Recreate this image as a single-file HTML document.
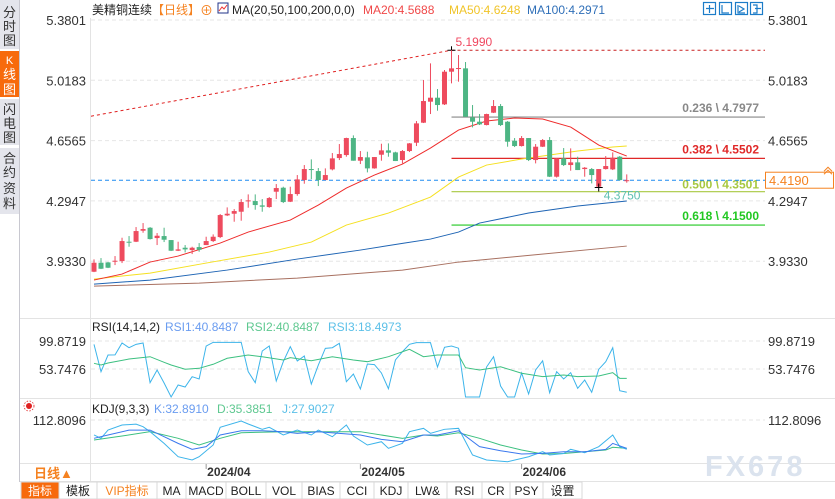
<!DOCTYPE html>
<html><head><meta charset="utf-8">
<style>
body{margin:0;background:#fff;width:835px;height:499px;overflow:hidden;font-family:"Liberation Sans","Noto Sans CJK SC",sans-serif}
svg{display:block}
text{font-family:"Liberation Sans","Noto Sans CJK SC",sans-serif}
</style></head>
<body>
<svg id="c" width="835" height="499" xmlns="http://www.w3.org/2000/svg">
<g>
<rect x="0" y="0" width="19" height="499" fill="#fff"/>
<line x1="19.5" y1="0" x2="19.5" y2="482" stroke="#c8c8d0"/>
<rect x="0" y="0" width="19" height="49" fill="#e4e5ec"/>
<text x="9.5" y="17" font-size="13" text-anchor="middle" fill="#333">分</text>
<text x="9.5" y="31" font-size="13" text-anchor="middle" fill="#333">时</text>
<text x="9.5" y="45" font-size="13" text-anchor="middle" fill="#333">图</text>
<rect x="0" y="51" width="19" height="46" fill="#f76a0c"/>
<text x="9.5" y="64" font-size="11" text-anchor="middle" fill="#fff">K</text>
<text x="9.5" y="79" font-size="13" text-anchor="middle" fill="#fff">线</text>
<text x="9.5" y="94" font-size="13" text-anchor="middle" fill="#fff">图</text>
<rect x="0" y="99" width="19" height="46" fill="#e4e5ec"/>
<text x="9.5" y="114" font-size="13" text-anchor="middle" fill="#333">闪</text>
<text x="9.5" y="128" font-size="13" text-anchor="middle" fill="#333">电</text>
<text x="9.5" y="142" font-size="13" text-anchor="middle" fill="#333">图</text>
<rect x="0" y="148" width="19" height="66" fill="#e4e5ec"/>
<text x="9.5" y="163" font-size="13" text-anchor="middle" fill="#333">合</text>
<text x="9.5" y="177" font-size="13" text-anchor="middle" fill="#333">约</text>
<text x="9.5" y="193" font-size="13" text-anchor="middle" fill="#333">资</text>
<text x="9.5" y="208" font-size="13" text-anchor="middle" fill="#333">料</text>
</g>
<g font-size="12">
<text x="92" y="14" fill="#222">美精铜连续</text>
<text x="152" y="14" fill="#f58220">【日线】</text>
<text x="200" y="15" fill="#f58220" font-size="13">⊕</text>
<rect x="218" y="3" width="10" height="10" fill="#fff" stroke="#223388"/>
<polyline points="219,11 222,7 224,9 227,5" fill="none" stroke="#e33" stroke-width="1"/>
<text x="232" y="14" fill="#222">MA(20,50,100,200,0,0)</text>
<text x="363" y="14" fill="#f04848">MA20:4.5688</text>
<text x="449" y="14" fill="#f0c428">MA50:4.6248</text>
<text x="527" y="14" fill="#2f6fb8">MA100:4.2971</text>
</g>
<g fill="none" stroke="#1c7cc8" stroke-width="1.2">
<rect x="703.5" y="2.5" width="12" height="12"/>
<rect x="719.5" y="2.5" width="12" height="12"/>
<rect x="735.5" y="2.5" width="12" height="12"/>
<rect x="750.5" y="2.5" width="12" height="12"/>
<path d="M709.5 5v8M706 8.5h8M722 5v8h7M738 5v8h7M739 6l5 3-5 3M753 5h4v8h-4M755 8.5h6" />
</g>
<g id="grid"></g>
<g id="main"></g>
<g id="rsi"></g>
<g id="kdj"></g>
<g stroke="#e3e3e3">
<line x1="90.5" y1="18" x2="90.5" y2="463"/>
<line x1="20" y1="318.5" x2="835" y2="318.5"/>
<line x1="20" y1="398.5" x2="835" y2="398.5"/>
<line x1="20" y1="463.5" x2="835" y2="463.5"/>
<line x1="20" y1="481.5" x2="835" y2="481.5"/>
<line x1="90.5" y1="463" x2="90.5" y2="482"/>
</g>
<g font-size="12">
<text x="92" y="331" fill="#222">RSI(14,14,2)</text>
<text x="165" y="331" fill="#6a9cf0">RSI1:40.8487</text>
<text x="246" y="331" fill="#5ec890">RSI2:40.8487</text>
<text x="328" y="331" fill="#5cc0e8">RSI3:18.4973</text>
</g>
<g font-size="12">
<text x="92" y="413" fill="#222">KDJ(9,3,3)</text>
<text x="154" y="413" fill="#6a9cf0">K:32.8910</text>
<text x="217" y="413" fill="#5ec890">D:35.3851</text>
<text x="282" y="413" fill="#5cc0e8">J:27.9027</text>
</g>
<g>
<circle cx="29" cy="406" r="3" fill="#e02020"/>
<circle cx="29" cy="406" r="5" fill="none" stroke="#e02020" stroke-width="0.8" stroke-dasharray="1.5 1.5"/>
</g>
<g>
<text x="34" y="478" font-size="13" fill="#f58220" font-weight="bold">日线▲</text>
</g>
<g id="dates" font-size="12" font-weight="bold" fill="#333"></g>
<text x="705" y="476" font-size="29" font-weight="bold" fill="#dbe3ee" letter-spacing="3">FX678</text>
<g id="tb"></g>
</svg>
<script>
const opens=[3.870,3.924,3.926,3.934,3.934,4.050,4.050,4.116,4.134,4.072,4.084,4.060,3.996,4.014,4.000,4.018,4.030,4.054,4.078,4.208,4.218,4.230,4.296,4.294,4.268,4.258,4.350,4.374,4.290,4.336,4.420,4.486,4.474,4.420,4.484,4.552,4.570,4.672,4.536,4.556,4.490,4.572,4.598,4.586,4.540,4.594,4.644,4.764,4.890,4.914,4.874,5.070,5.090,5.090,4.796,4.770,4.750,4.824,4.864,4.770,4.656,4.624,4.672,4.540,4.620,4.660,4.440,4.550,4.510,4.526,4.486,4.486,4.380,4.486,4.484,4.560,4.419];
const closes=[3.924,3.888,3.894,3.936,4.054,4.048,4.114,4.126,4.066,4.086,4.062,3.996,4.004,4.004,4.014,4.002,4.054,4.080,4.210,4.218,4.234,4.288,4.298,4.270,4.260,4.312,4.372,4.288,4.336,4.424,4.486,4.480,4.420,4.450,4.550,4.576,4.672,4.536,4.558,4.490,4.558,4.598,4.584,4.534,4.594,4.640,4.760,4.894,4.914,4.870,5.070,5.090,5.092,4.800,4.770,4.754,4.816,4.864,4.750,4.650,4.624,4.672,4.540,4.620,4.660,4.440,4.550,4.510,4.526,4.480,4.494,4.450,4.486,4.504,4.554,4.420,4.419];
const highs=[3.944,3.952,3.928,3.964,4.074,4.084,4.138,4.162,4.138,4.102,4.134,4.060,4.050,4.030,4.020,4.042,4.080,4.094,4.216,4.256,4.246,4.306,4.334,4.334,4.306,4.318,4.396,4.380,4.380,4.450,4.510,4.544,4.492,4.490,4.582,4.636,4.674,4.688,4.594,4.590,4.558,4.638,4.640,4.590,4.600,4.642,4.774,5.020,5.120,4.966,5.080,5.199,5.170,5.128,4.870,4.816,4.818,4.900,4.876,4.774,4.672,4.684,4.672,4.636,4.666,4.678,4.552,4.612,4.610,4.560,4.498,4.492,4.486,4.564,4.586,4.564,4.454];
const lows=[3.868,3.886,3.892,3.910,3.922,4.020,4.048,4.104,4.063,4.030,4.048,3.994,3.994,3.986,3.976,3.990,4.030,4.048,4.072,4.204,4.170,4.176,4.254,4.242,4.230,4.254,4.306,4.282,4.288,4.326,4.398,4.426,4.384,4.420,4.478,4.540,4.560,4.536,4.516,4.466,4.488,4.536,4.560,4.534,4.520,4.588,4.624,4.762,4.816,4.836,4.870,5.000,5.010,4.798,4.736,4.750,4.748,4.822,4.744,4.620,4.618,4.621,4.534,4.520,4.618,4.438,4.435,4.504,4.476,4.480,4.440,4.400,4.375,4.483,4.480,4.417,4.404];
const ma20Idx=[0,4,8,12,18,22,28,32,36,40,44,48,52,56,60,64,68,72,76];
const ma20Val=[3.820,3.856,3.928,3.964,4.042,4.108,4.180,4.270,4.372,4.450,4.516,4.612,4.720,4.774,4.792,4.786,4.738,4.630,4.564];
const ma50Idx=[0,8,16,25,31,36,42,48,52,56,61,65,69,74,76];
const ma50Val=[3.826,3.862,3.922,3.988,4.048,4.150,4.222,4.318,4.438,4.510,4.546,4.570,4.594,4.618,4.624];
const ma100Idx=[0,8,19,29,38,44,48,52,55,62,69,76];
const ma100Val=[3.796,3.820,3.880,3.946,4.000,4.040,4.066,4.108,4.162,4.222,4.264,4.294];
const ma200Idx=[0,15,29,44,52,76];
const ma200Val=[3.784,3.802,3.832,3.880,3.928,4.024];
const priceTicks=["5.3801","5.0183","4.6565","4.2947","3.9330"];
const fibLevels=[4.7977,4.5502,4.3501,4.1500];
const fibRatios=["0.236","0.382","0.500","0.618"];
const rsi3=[94.4,49.3,76.8,77,96.6,88.8,94.4,96.6,31.2,52.1,30.7,7.6,27.4,24.1,41.1,37.3,91.6,97.7,97.7,97.7,97.7,97.7,49.3,31.2,83.4,91.6,34.0,65.8,90.5,66.9,75.2,29.0,60.3,87.8,88.8,96.1,32.8,45.5,20.8,62.0,61.0,47.2,21.3,68.6,82.2,94.4,97.1,97.1,97.1,57.0,89.5,91.6,88.0,7.6,7.6,7.6,57.0,74.0,25.7,7.6,7.6,47.2,12.6,52.1,67.2,14.7,49.3,37.3,47.7,21.9,35.6,15.4,53.2,65.8,88.8,18.0,15.4];
const rsi1Idx=[0,1,2,5,8,10,11,13,15,17,19,22,24,27,28,31,34,37,39,42,45,47,49,52,53,55,58,61,64,67,69,72,74,75,76];
const rsi1Val=[63.1,60.3,63.6,70.2,74.0,64.8,60.3,53.3,54.9,61.5,71.4,76.8,74.0,68.6,72.4,67.4,74.0,68.6,65.8,74.0,86.2,74.0,76.8,76.8,55.9,52.1,57.5,46.7,41.1,43.9,41.1,42.2,47.7,38.4,38.4];
const rsiTicks=["99.8719","53.7476"];
const jIdx=[0,1,2,4,6,7,8,10,12,14,15,17,18,21,22,24,25,27,29,31,32,34,36,37,39,41,42,44,45,47,48,50,52,54,56,59,62,64,65,67,68,70,72,74,75,76];
const jVal=[70,60.5,84,98.5,101,93.7,79.4,46,7.9,-1.5,7.9,41.4,92,110,101.4,86.2,92,70,84,70,84,65.1,98.5,67,41.4,50.8,31.9,46,79.4,89,74.7,86.2,89,12.8,-1.5,-6.3,7.9,22.2,12.8,17,29,19.4,36.6,70,36.6,29];
const kIdx=[0,2,5,8,10,12,14,16,18,21,24,27,29,32,35,38,41,44,47,49,52,55,58,61,64,67,70,73,74,76];
const kVal=[60.5,70,84,84,65,46,29,36.6,70,82,82,79.4,74.7,79.4,74.7,70,57.6,50.8,70,70,82,36.6,25.1,15.7,17.6,22.2,22.2,29,46,31.9];
const dIdx=[0,4,8,12,15,18,21,27,32,38,44,47,49,52,55,58,61,64,67,70,73,74,76];
const dVal=[55.7,67,79.4,60.5,41.4,60.5,76.5,79.4,79.4,79.4,60.5,70,67,76.5,60.5,41.4,27,15.7,17,22.2,27,34.9,31.9];
const dateLabels=["2024/04","2024/05","2024/06"];
const dateIdx=[16,38,61];

const NS="http://www.w3.org/2000/svg";
function mk(tag,parent,attrs){const e=document.createElementNS(NS,tag);for(const k in attrs)e.setAttribute(k,attrs[k]);parent.appendChild(e);return e;}
const X=i=>94+i*7.01;
const Y=p=>20+(5.3801-p)*166.7;
const YR=v=>341+(99.8719-v)*0.607;
const YK=v=>420+(112.8096-v)*0.35;
const g=document.getElementById('main'),grid=document.getElementById('grid');

priceTicks.forEach((t,k)=>{const y=Y(parseFloat(t));
 const l=mk('line',grid,{x1:91,x2:765,y1:y,y2:y,stroke:'#e6e6e6','stroke-dasharray':'4 3'});
 
 
 const a=mk('text',grid,{x:86,y:y+5,'font-size':13,'text-anchor':'end',fill:'#333'});a.textContent=t;
 
 
 const b=mk('text',grid,{x:768,y:y+5,'font-size':13,fill:'#333'});b.textContent=t;
 
 
});
rsiTicks.forEach(t=>{const y=YR(parseFloat(t));
 const l=mk('line',grid,{x1:91,x2:765,y1:y,y2:y,stroke:'#e6e6e6','stroke-dasharray':'4 3'});
 
 
 const a=mk('text',grid,{x:86,y:y+5,'font-size':13,'text-anchor':'end',fill:'#333'});a.textContent=t;
 
 
 const b=mk('text',grid,{x:768,y:y+5,'font-size':13,fill:'#333'});b.textContent=t;
 
 
});
{const y=YK(112.8096);
 const l=mk('line',grid,{x1:91,x2:765,y1:y,y2:y,stroke:'#e6e6e6','stroke-dasharray':'4 3'});
 
 
 const a=mk('text',grid,{x:86,y:y+5,'font-size':13,'text-anchor':'end',fill:'#333'});a.textContent='112.8096';
 
 
 const b=mk('text',grid,{x:768,y:y+5,'font-size':13,fill:'#333'});b.textContent='112.8096';
 
 
}
{const hi=Math.max(...highs),hiI=highs.indexOf(hi);
 const t=mk('line',g,{x1:91,y1:Y(4.803),x2:X(hiI),y2:Y(hi),stroke:'#e02020','stroke-dasharray':'3 3'});
 
 
 const h=mk('line',g,{x1:X(hiI),y1:Y(hi),x2:765,y2:Y(hi),stroke:'#c82020','stroke-dasharray':'3 3'});
 
 
 const ht=mk('text',g,{x:X(hiI)+4,y:Y(hi)-4,'font-size':12,fill:'#f04860'});ht.textContent=hi.toFixed(4);
 
 
 const c=mk('path',g,{d:`M${X(hiI)-4} ${Y(hi)}h8M${X(hiI)} ${Y(hi)-4}v8`,stroke:'#000'});
 
 
}
const fibCol=['#888','#e02828','#a8c840','#22c822'];
fibLevels.forEach((v,k)=>{const y=Y(v);
 const l=mk('line',g,{x1:X(51),x2:765,y1:y,y2:y,stroke:fibCol[k],'stroke-width':1.2});
 
 
 const t=mk('text',g,{x:759,y:y-(k==2?3:5),'font-size':12,'font-weight':'bold','text-anchor':'end',fill:fibCol[k]});
 t.textContent=fibRatios[k]+' \\ '+v.toFixed(4);
 
 
});
function maLine(idx,val,col,name){const p=mk('polyline',g,{points:idx.map((i,k)=>X(i)+','+Y(val[k])).join(' '),fill:'none',stroke:col,'stroke-width':1});
 
 }
maLine(ma200Idx,ma200Val,'#a87060','ma200-line');
maLine(ma100Idx,ma100Val,'#1e64b4','ma100-line');
maLine(ma50Idx,ma50Val,'#f5e020','ma50-line');
maLine(ma20Idx,ma20Val,'#ee2a2a','ma20-line');
{const last=closes[closes.length-1],y=Y(last);
 const l=mk('line',g,{x1:91,x2:765,y1:y,y2:y,stroke:'#1e8cf0','stroke-dasharray':'4 3'});
 
 
 const r=mk('rect',g,{x:765.5,y:y-8,width:68,height:16,fill:'#fff',stroke:'#f58220'});
 
 
 const t=mk('text',g,{x:769,y:y+5,'font-size':13,fill:'#f58220'});t.textContent=last.toFixed(4);
 
 
 const a=mk('path',g,{d:`M824 ${y-9}l4 -4 4 4M824 ${y-6}l4 -4 4 4`,stroke:'#f58220',fill:'none'});
 
 
}
opens.forEach((o,i)=>{const c=closes[i],up=c>=o,col=up?'#ee4b5e':'#4db584',x=X(i);
 const w=mk('line',g,{x1:x,x2:x,y1:Y(highs[i]),y2:Y(lows[i]),stroke:col});
 
 
 const top=Y(Math.max(o,c)),h=Math.max(1,Math.abs(Y(o)-Y(c)));
 const b=mk('rect',g,{x:x-2.5,y:top,width:5,height:h,fill:col});
 
 
});
{const lo=Math.min(...lows.slice(50)),li=lows.lastIndexOf(lo);
 const m=mk('path',g,{d:`M${X(li)-4} ${Y(lo)}h8M${X(li)} ${Y(lo)-4}v8`,stroke:'#000'});
 
 
 const t=mk('text',g,{x:X(li)+5,y:Y(lo)+12,'font-size':12,fill:'#5cbfb0'});t.textContent=lo.toFixed(4);
 
 
}
const rg=document.getElementById('rsi');
{const p=mk('polyline',rg,{points:rsi3.map((v,i)=>X(i)+','+YR(v)).join(' '),fill:'none',stroke:'#3cb4ea'});
 
 
 const q=mk('polyline',rg,{points:rsi1Idx.map((i,k)=>X(i)+','+YR(rsi1Val[k])).join(' '),fill:'none',stroke:'#3cc080'});
 
 }
const kg=document.getElementById('kdj');
function kl(idx,val,col,name){const p=mk('polyline',kg,{points:idx.map((i,k)=>X(i)+','+YK(val[k])).join(' '),fill:'none',stroke:col});
 
 }
kl(dIdx,dVal,'#3cc080','kdj-d-line');
kl(jIdx,jVal,'#3cb4ea','kdj-j-line');
kl(kIdx,kVal,'#3a78ee','kdj-k-line');
const dg=document.getElementById('dates');
dateLabels.forEach((d,k)=>{const x=X(dateIdx[k]);
 const l=mk('line',dg,{x1:x,x2:x,y1:464,y2:469,stroke:'#999'});
 
 
 const t=mk('text',dg,{x:x+1,y:476});t.textContent=d;
 
 
});
const tb=document.getElementById('tb');
const tbItems=["指标","模板","VIP指标","MA","MACD","BOLL","VOL","BIAS","CCI","KDJ","LW&","RSI","CR","PSY","设置"];
const tbEdges=[21,59,97,157,186,226,266,302,340,374,408,447,482,510,543,582];
tbItems.forEach((s,k)=>{const x0=tbEdges[k],x1=tbEdges[k+1];
 const r=mk('rect',tb,{x:x0,y:482,width:x1-x0,height:17,fill:k==0?'#f76a0c':'#fff',stroke:'#d8d8d8'});
 
 
 const t=mk('text',tb,{x:(x0+x1)/2,y:495,'font-size':12,'text-anchor':'middle',fill:k==0?'#fff':(k==2?'#f58220':'#222'),'font-family':'"Liberation Mono","Noto Sans CJK SC",monospace'});
 t.textContent=s;
 
 
});
</script>
</body></html>
